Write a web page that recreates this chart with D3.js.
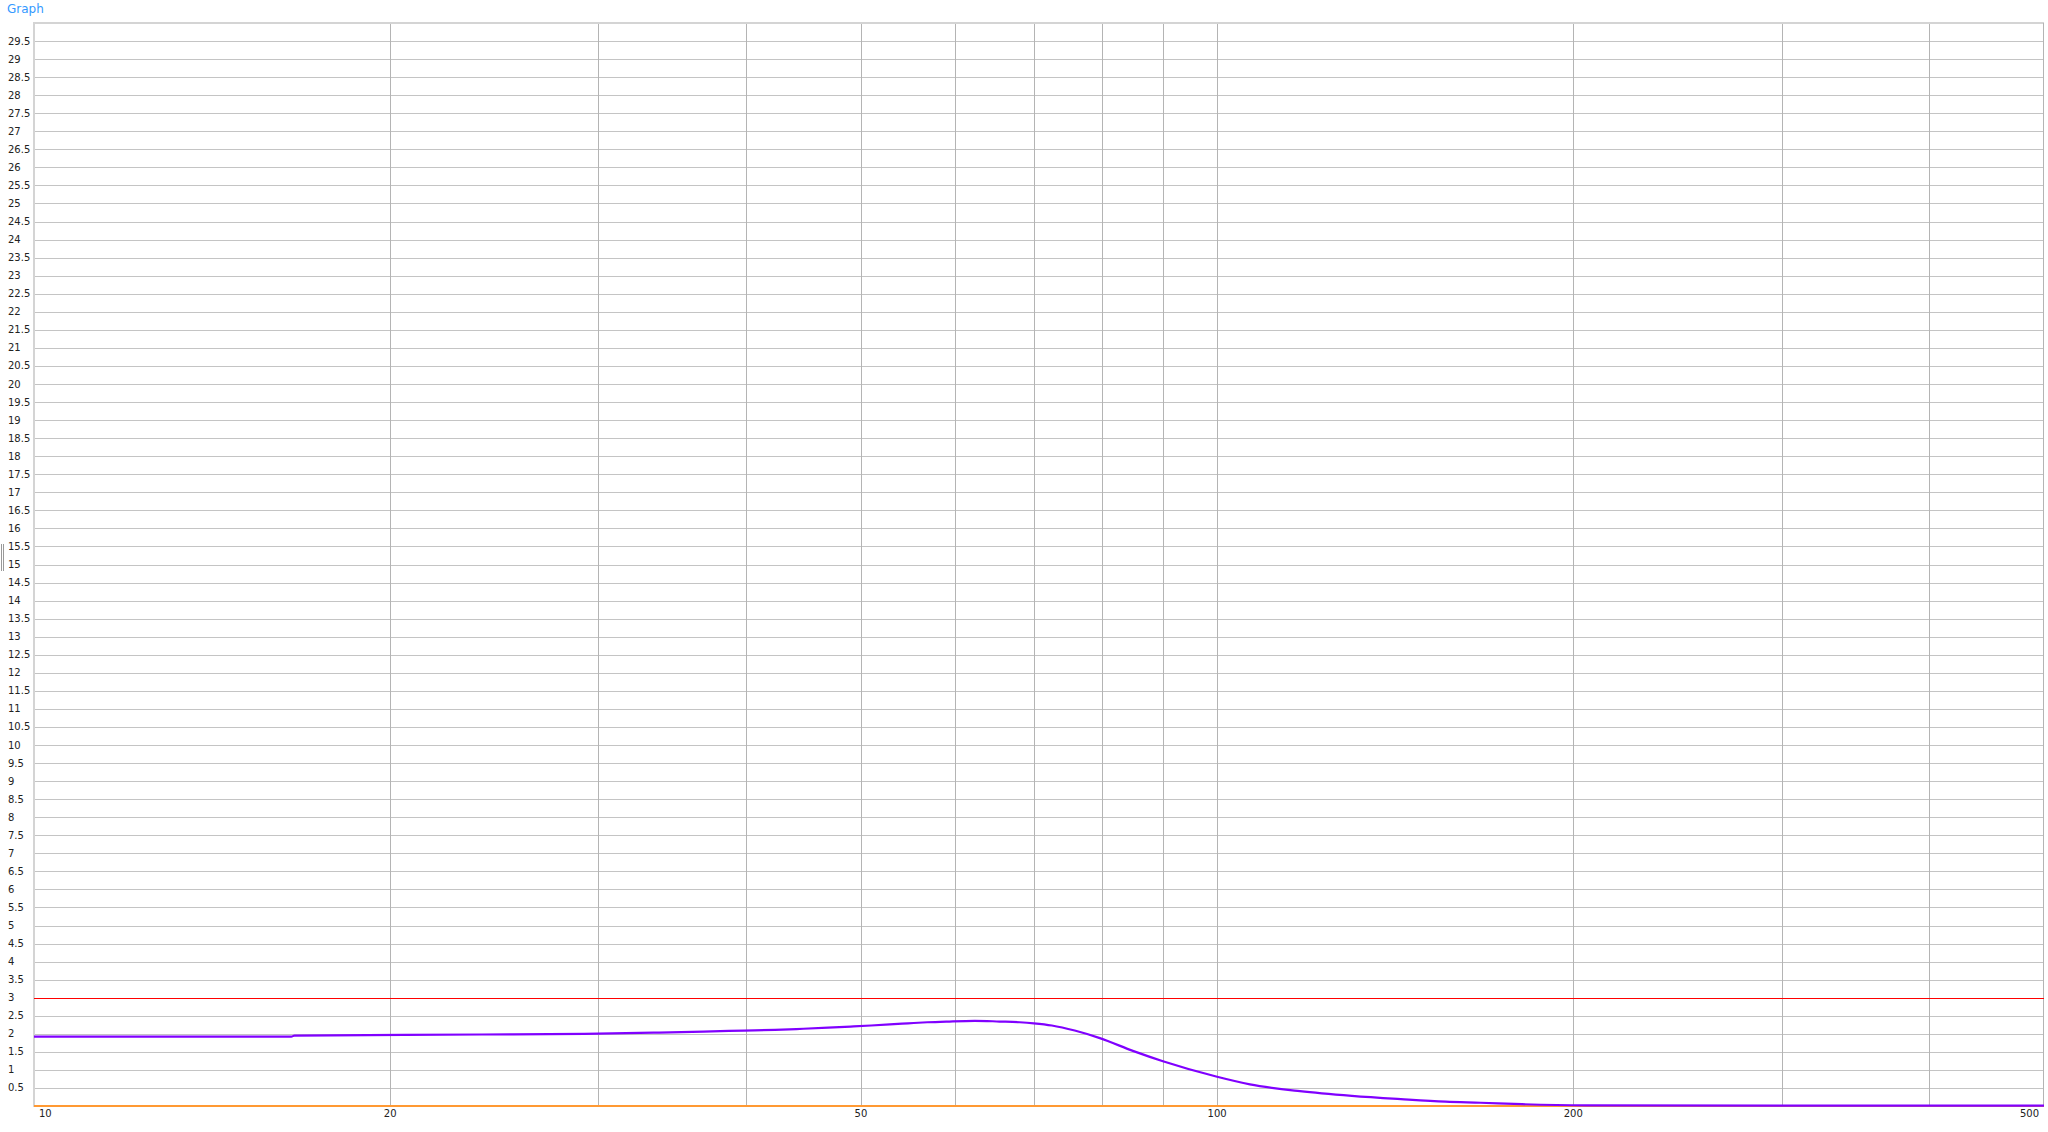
<!DOCTYPE html>
<html>
    <head>
        <meta charset='utf-8'>
        <script src="https://d3js.org/d3.v7.min.js"></script>
        <style>
            body { margin: 0; background: #fff; }
            text { font-family: "DejaVu Sans", Verdana, sans-serif; }
            .grid line { stroke: #c4c4c4; stroke-width: 1; shape-rendering: crispEdges; }
            .vgrid line { stroke: #b4b4b4; stroke-width: 1; shape-rendering: crispEdges; }
            .lbl { font-size: 10px; fill: #222; }
        </style>
    </head>
    <body>
        <script>

            // curve (frequency, value)
            var freqs  = [10, 16.5, 16.6, 23.9, 29.2, 33.4, 36.8, 39.8, 42.3, 44.7, 46.9, 49, 51, 52.9, 54.8, 56.9, 59.1, 62.4, 65.5, 68.1, 70, 72.5, 75.8, 79.6, 85, 90, 100, 106.6, 117.5, 130, 143, 156, 167, 181, 205, 300, 500];
            var values = [1.92, 1.92, 1.95, 1.98, 2.00, 2.03, 2.06, 2.09, 2.11, 2.14, 2.17, 2.20, 2.23, 2.26, 2.29, 2.32, 2.34, 2.36, 2.34, 2.32, 2.29, 2.23, 2.09, 1.88, 1.52, 1.24, 0.81, 0.60, 0.41, 0.28, 0.19, 0.12, 0.09, 0.05, 0.02, 0.01, 0.01];

            var limitLevel = 3;      // red line
            var baseLevel = 0;       // orange line
            var xTickLabels = [10, 20, 50, 100, 200, 500];
            var xGridValues = [20, 30, 40, 50, 60, 70, 80, 90, 100, 200, 300, 400];
            var yTickValues = d3.range(1, 60).map(function(i) { return i / 2; });

            var width = 2048, height = 1132;
            var plotLeft = 34, plotRight = 2044, plotTop = 23, plotBottom = 1106;

            var svg = d3.select('body')
                        .append('svg')
                        .attr('width', width)
                        .attr('height', height);

            var x = d3.scaleLog().domain([10, 500]).range([plotLeft, plotRight]);
            var y = d3.scaleLinear().domain([0, 30]).range([plotBottom, plotTop]);

            svg.append('text')
                .attr('x', 7)
                .attr('y', 13)
                .style('font-size', '12px')
                .style('fill', '#3399ff')
                .text('Graph');

            // horizontal grid + labels
            var hg = svg.append('g').attr('class', 'grid');
            hg.selectAll('line')
                .data(yTickValues)
                .enter()
                .append('line')
                .attr('x1', plotLeft).attr('x2', plotRight)
                .attr('y1', function(d) { return Math.round(y(d)) + 0.5; })
                .attr('y2', function(d) { return Math.round(y(d)) + 0.5; });

            svg.selectAll('.ylbl')
                .data(yTickValues)
                .enter()
                .append('text')
                .attr('class', 'lbl ylbl')
                .attr('x', 8)
                .attr('y', function(d) { return y(d); })
                .attr('dy', '0.35em')
                .text(function(d) { return d; });

            // vertical grid
            var vg = svg.append('g').attr('class', 'vgrid');
            vg.selectAll('line')
                .data(xGridValues)
                .enter()
                .append('line')
                .attr('y1', plotTop).attr('y2', plotBottom)
                .attr('x1', function(d) { return Math.round(x(d)) + 0.5; })
                .attr('x2', function(d) { return Math.round(x(d)) + 0.5; });

            svg.selectAll('.xlbl')
                .data(xTickLabels)
                .enter()
                .append('text')
                .attr('class', 'lbl xlbl')
                .attr('x', function(d, i) {
                    if (i == 0) return x(d) + 5;
                    if (i == xTickLabels.length - 1) return x(d) - 5;
                    return x(d);
                })
                .attr('y', 1117)
                .attr('text-anchor', function(d, i) {
                    if (i == 0) return 'start';
                    if (i == xTickLabels.length - 1) return 'end';
                    return 'middle';
                })
                .text(function(d) { return d; });

            // frame
            svg.append('line').attr('x1', plotLeft).attr('x2', plotLeft).attr('y1', plotTop - 1).attr('y2', plotBottom + 1)
                .style('stroke', '#d4d4d4').style('stroke-width', 2);
            svg.append('line').attr('x1', plotLeft).attr('x2', plotRight).attr('y1', plotTop).attr('y2', plotTop)
                .style('stroke', '#d4d4d4').style('stroke-width', 2);
            svg.append('line').attr('x1', plotRight - 0.5).attr('x2', plotRight - 0.5).attr('y1', plotTop).attr('y2', plotBottom)
                .style('stroke', '#b4b4b4').style('stroke-width', 1);

            // splitter handle
            svg.append('line').attr('x1', 1.5).attr('x2', 1.5).attr('y1', 544).attr('y2', 571).style('stroke', '#999');
            svg.append('line').attr('x1', 3.5).attr('x2', 3.5).attr('y1', 544).attr('y2', 571).style('stroke', '#999');

            // limit lines
            svg.append('line')
                .attr('x1', plotLeft).attr('x2', plotRight)
                .attr('y1', Math.round(y(limitLevel)) + 0.5).attr('y2', Math.round(y(limitLevel)) + 0.5)
                .style('stroke', '#ff0000').style('stroke-width', 1.2);
            svg.append('line')
                .attr('x1', plotLeft).attr('x2', plotRight)
                .attr('y1', y(baseLevel)).attr('y2', y(baseLevel))
                .style('stroke', '#ff9933').style('stroke-width', 2);

            var line = d3.line()
                .x(function(d, i) { return x(freqs[i]); })
                .y(function(d) { return y(d); })
                .curve(d3.curveMonotoneX);

            svg.append('path')
                .datum(values)
                .attr('d', line)
                .style('fill', 'none')
                .style('stroke', '#8000ff')
                .style('stroke-width', 2.2);

        </script>
    </body>
</html>
